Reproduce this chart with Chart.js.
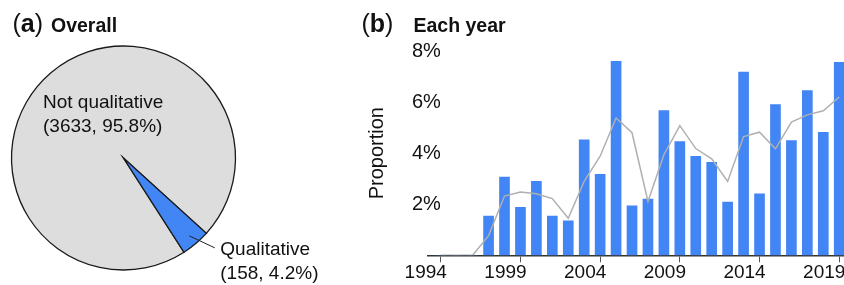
<!DOCTYPE html>
<html>
<head>
<meta charset="utf-8">
<script src="https://cdn.jsdelivr.net/npm/chart.js@4.4.0/dist/chart.umd.min.js"></script>
<style>
  body { margin: 0; background: #fff; }
  #wrap { position: relative; width: 844px; height: 285px; overflow: hidden; font-family: "Liberation Sans", Arial, sans-serif; color: #111; }
  .t { position: absolute; white-space: nowrap; line-height: 1; }
  .tag { font-size: 25px; }
  .tag b { font-weight: bold; }
  .head { font-size: 19.5px; font-weight: bold; }
  #pieCanvas { position: absolute; left: 0; top: 0; }
  #barCanvas { position: absolute; left: 360px; top: 0; }
</style>
</head>
<body>
<div id="wrap">
  <canvas id="pieCanvas" width="360" height="285"></canvas>
  <canvas id="barCanvas" width="484" height="285"></canvas>
  <div class="t tag" style="left:12.5px; top:11px;">(<b>a</b>)</div>
  <div class="t head" style="left:51px; top:15.7px;">Overall</div>
  <div class="t tag" style="left:361.5px; top:10.5px;">(<b>b</b>)</div>
  <div class="t head" style="left:413.5px; top:15.7px;">Each year</div>
</div>
<script>
// panel (a): overall counts
const pieLabels = ['Not qualitative', 'Qualitative'];
const pieCounts = [3633, 158];

// panel (b): proportion per year, in percent
const years = [1994, 1995, 1996, 1997, 1998, 1999, 2000, 2001, 2002, 2003, 2004, 2005, 2006,
               2007, 2008, 2009, 2010, 2011, 2012, 2013, 2014, 2015, 2016, 2017, 2018, 2019];
const yearPct = [0, 0, 0, 1.54, 3.06, 1.88, 2.90, 1.54, 1.35, 4.52, 3.17, 7.60, 1.94,
                 2.20, 5.67, 4.45, 3.88, 3.64, 2.08, 7.17, 2.41, 5.90, 4.49, 6.45, 4.82, 7.56];
const trendPct = [0, 0, 0, 0.77, 2.32, 2.48, 2.41, 2.22, 1.45, 2.90, 3.88, 5.38, 4.80,
                  2.11, 3.94, 5.08, 4.18, 3.78, 2.89, 4.65, 4.82, 4.17, 5.22, 5.50, 5.66, 6.20];
const xTickYears = [1994, 1999, 2004, 2009, 2014, 2019];
const yTickPct = [2, 4, 6, 8];

const FONT = '"Liberation Sans", Arial, sans-serif';
const BLUE = '#4285f4';

// labels for the pie, placed from the arc geometry
const pieLabelPlugin = {
  id: 'pieLabels',
  afterDatasetsDraw(chart) {
    const ctx = chart.ctx;
    const arcs = chart.getDatasetMeta(0).data;
    const total = pieCounts.reduce((a, b) => a + b, 0);
    const text = i => [pieLabels[i], '(' + pieCounts[i] + ', ' + (pieCounts[i] / total * 100).toFixed(1) + '%)'];

    ctx.save();
    ctx.font = '19px ' + FONT;
    ctx.fillStyle = '#111';
    ctx.textAlign = 'left';
    ctx.textBaseline = 'alphabetic';

    // big slice - text sits inside, upper left
    const big = arcs[0];
    const t0 = text(0);
    ctx.fillText(t0[0], big.x - 80.5, big.y - 50);
    ctx.fillText(t0[1], big.x - 80.5, big.y - 26.5);

    // small slice - leader line out to the right
    const small = arcs[1];
    const mid = (small.startAngle + small.endAngle) / 2;
    const sx = small.x + Math.cos(mid) * small.outerRadius * 0.91;
    const sy = small.y + Math.sin(mid) * small.outerRadius * 0.91;
    const ex = sx + 25.5, ey = sy + 12;
    ctx.strokeStyle = '#222';
    ctx.lineWidth = 1;
    ctx.beginPath();
    ctx.moveTo(sx, sy);
    ctx.lineTo(ex, ey);
    ctx.stroke();
    const t1 = text(1);
    ctx.fillText(t1[0], ex + 5.5, ey + 7.5);
    ctx.fillText(t1[1], ex + 5.5, ey + 31);
    ctx.restore();
  }
};

new Chart(document.getElementById('pieCanvas'), {
  type: 'pie',
  data: {
    labels: pieLabels,
    datasets: [{
      data: pieCounts,
      backgroundColor: ['#dddddd', BLUE],
      borderColor: '#1a1a1a',
      borderWidth: 1.3,
      borderJoinStyle: 'miter'
    }]
  },
  options: {
    responsive: false,
    animation: false,
    rotation: 147.3,
    radius: 112,
    layout: { padding: { left: 11.5, right: 124.5, top: 46, bottom: 15 } },
    plugins: { legend: { display: false }, tooltip: { enabled: false } }
  },
  plugins: [pieLabelPlugin]
});

new Chart(document.getElementById('barCanvas'), {
  type: 'bar',
  data: {
    datasets: [{
      type: 'line',
      data: years.map((y, i) => ({ x: y, y: trendPct[i] })),
      borderColor: '#b0b0b0',
      borderWidth: 1.5,
      pointRadius: 0,
      tension: 0,
      order: 0
    }, {
      type: 'bar',
      data: years.map((y, i) => ({ x: y, y: yearPct[i] })),
      backgroundColor: BLUE,
      barThickness: 10,
      order: 1
    }]
  },
  options: {
    responsive: false,
    animation: false,
    layout: { padding: { top: 51, left: 0, right: 0, bottom: 0 } },
    plugins: { legend: { display: false }, tooltip: { enabled: false } },
    scales: {
      x: {
        type: 'linear',
        offset: false,
        min: 1993.2,
        max: 2019.3,
        afterBuildTicks: s => { s.ticks = xTickYears.map(v => ({ value: v })); },
        afterFit: s => { s.height = 29.7; s.paddingLeft = 0; s.paddingRight = 0; },
        grid: { display: true, offset: false, drawOnChartArea: false, drawTicks: true, tickLength: 7, color: '#555', lineWidth: 1 },
        border: { display: true, color: '#333', width: 1.6 },
        ticks: {
          autoSkip: false,
          maxRotation: 0,
          padding: -1,
          labelOffset: -15,
          color: '#111',
          font: { family: FONT, size: 19 },
          callback: v => String(v)
        }
      },
      y: {
        min: 0,
        max: 8,
        afterBuildTicks: s => { s.ticks = yTickPct.map(v => ({ value: v })); },
        afterFit: s => { s.width = 68; },
        grid: { display: false, drawTicks: false },
        border: { display: false },
        ticks: {
          mirror: true,
          padding: -16,
          color: '#111',
          font: { family: FONT, size: 20 },
          callback: v => v + '%'
        },
        title: {
          display: true,
          text: 'Proportion',
          color: '#111',
          font: { family: FONT, size: 20 },
          padding: { top: 5, bottom: 0 }
        }
      }
    }
  }
});
</script>
</body>
</html>
